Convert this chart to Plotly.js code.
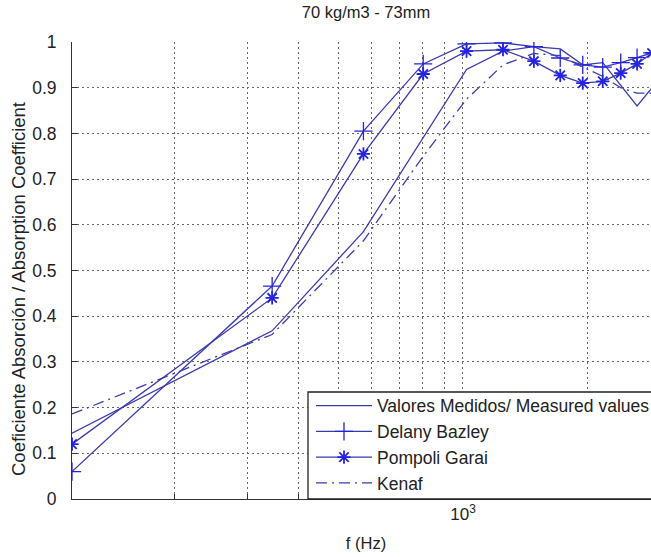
<!DOCTYPE html>
<html>
<head>
<meta charset="utf-8">
<script src="https://cdn.plot.ly/plotly-3.0.1.min.js"></script>
<style>
html,body{margin:0;padding:0;overflow:hidden;background:#fff;width:651px;height:557px;}
#chart{width:670px;height:557px;}
</style>
</head>
<body>
<div id="chart"></div>
<script>
// Data
const freqs    = [113, 345, 574, 801, 1020, 1250, 1485, 1720, 1950, 2180, 2410, 2640, 2870];
const measured = [0.144, 0.368, 0.585, 0.79, 0.94, 0.98, 0.99, 0.985, 0.95, 0.955, 0.905, 0.86, 0.90];
const delany   = [0.06, 0.466, 0.805, 0.952, 0.996, 0.998, 0.99, 0.965, 0.95, 0.945, 0.955, 0.966, 0.976];
const pompoli  = [0.12, 0.44, 0.755, 0.93, 0.98, 0.983, 0.958, 0.927, 0.91, 0.914, 0.932, 0.952, 0.976];
const kenaf    = [0.186, 0.36, 0.565, 0.75, 0.875, 0.95, 0.975, 0.97, 0.945, 0.925, 0.9, 0.888, 0.888];

const seriesNames = ['Valores Medidos/ Measured values', 'Delany Bazley', 'Pompoli Garai', 'Kenaf'];
const xTickVals = [200, 300, 400, 500, 600, 700, 800, 900, 1000, 2000, 3000];
const xTickText = ['', '', '', '', '', '', '', '', '10<sup>3</sup>', '', ''];
const yTickVals = [0, 0.1, 0.2, 0.3, 0.4, 0.5, 0.6, 0.7, 0.8, 0.9, 1];
const yTickText = ['0', '0.1', '0.2', '0.3', '0.4', '0.5', '0.6', '0.7', '0.8', '0.9', '1'];
const xRange = [113, 3000];
const titleText = '70 kg/m3 - 73mm';
const xTitle = 'f (Hz)';
const yTitle = 'Coeficiente Absorción / Absorption Coefficient';

const lineCol = '#3b3bb0';
const markCol = '#2323e0';
const FONT = 'Liberation Sans, Arial, sans-serif';

const traces = [
  {x: freqs, y: measured, name: seriesNames[0], mode: 'lines',
   line: {color: lineCol, width: 1.3}},
  {x: freqs, y: delany, name: seriesNames[1], mode: 'lines+markers',
   line: {color: lineCol, width: 1.3},
   marker: {symbol: 'cross-thin-open', size: 13, color: markCol, line: {color: markCol, width: 1.3}}},
  {x: freqs, y: pompoli, name: seriesNames[2], mode: 'lines+markers',
   line: {color: lineCol, width: 1.3},
   marker: {symbol: 'asterisk-open', size: 11, color: markCol, line: {color: markCol, width: 1.8}}},
  {x: freqs, y: kenaf, name: seriesNames[3], mode: 'lines',
   line: {color: lineCol, width: 1.3, dash: '11px,5px,2px,5px'}}
];

const layout = {
  width: 670, height: 557,
  margin: {l: 72, r: 10, t: 42, b: 58},
  paper_bgcolor: '#fff', plot_bgcolor: '#fff',
  font: {family: FONT, size: 17, color: '#222'},
  title: {text: titleText, font: {family: FONT, size: 16.5, color: '#222'},
          x: 0.5, xref: 'paper', xanchor: 'center', y: 1 - 12/557, yref: 'container', yanchor: 'middle'},
  xaxis: {
    type: 'log', range: [Math.log10(xRange[0]), Math.log10(xRange[1])],
    tickmode: 'array', tickvals: xTickVals, ticktext: xTickText,
    ticks: 'inside', ticklen: 5, tickcolor: '#333', tickwidth: 1,
    showline: true, linecolor: '#333', linewidth: 1, mirror: false,
    showgrid: true, gridcolor: '#666', gridwidth: 1, griddash: '2px,3px',
    zeroline: false, tickfont: {size: 17, color: '#222'},
    title: {text: xTitle, font: {size: 16.5, color: '#222'}, standoff: 14}
  },
  yaxis: {
    range: [0, 1], tickmode: 'array', tickvals: yTickVals, ticktext: yTickText,
    ticks: 'inside', ticklen: 5, tickcolor: '#333', tickwidth: 1,
    showline: true, linecolor: '#333', linewidth: 1, mirror: false,
    showgrid: true, gridcolor: '#666', gridwidth: 1, griddash: '2px,3px',
    zeroline: false, tickfont: {size: 17.5, color: '#222'}, ticklabelstandoff: 11
  },
  annotations: [{
    text: yTitle, textangle: -90, xref: 'paper', yref: 'paper',
    x: -54/588, y: (499 - 289) / 457, xanchor: 'center', yanchor: 'middle',
    showarrow: false, font: {family: FONT, size: 18.5, color: '#222'}
  }],
  shapes: [{
    type: 'rect', xref: 'paper', yref: 'paper', layer: 'above',
    x0: (308 - 72) / 588, x1: 1.05, y0: 0, y1: (499 - 392) / 457,
    fillcolor: '#fff', line: {color: '#222', width: 1.3}
  }],
  showlegend: true,
  legend: {
    x: (311 - 72) / 588, xanchor: 'left', y: 0.005 - 4/457, yanchor: 'bottom',
    bgcolor: 'rgba(0,0,0,0)', borderwidth: 0,
    font: {family: FONT, size: 17.5, color: '#222'},
    itemwidth: 56, tracegroupgap: 0, itemclick: false
  }
};

Plotly.newPlot('chart', traces, layout, {displayModeBar: false, staticPlot: true});
</script>
</body>
</html>
